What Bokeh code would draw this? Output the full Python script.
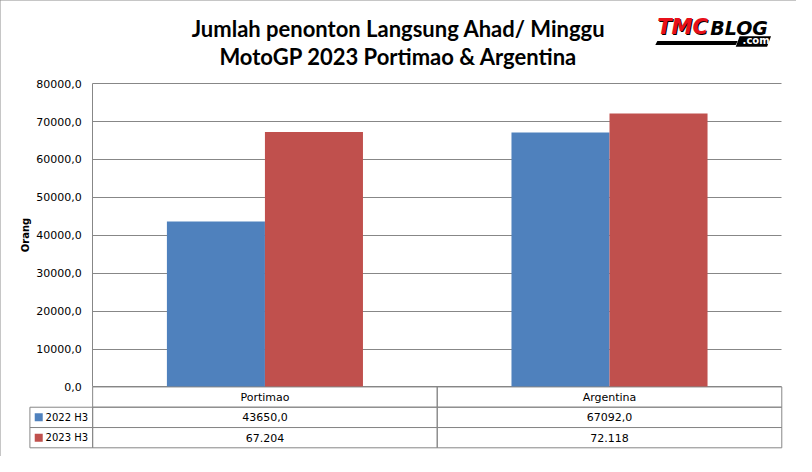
from bokeh.plotting import figure
from bokeh.models import (ColumnDataSource, Range1d, FixedTicker, LinearAxis,
                          CustomJSTickFormatter, Label, PolyAnnotation)
from bokeh.core.properties import value
from bokeh.transform import dodge
from bokeh.embed import file_html
from bokeh.resources import INLINE

# ---------------- data ----------------
categories = ["Portimao", "Argentina"]
series_names = ["2022 H3", "2023 H3"]
values_2022 = [43650, 67092]
values_2023 = [67204, 72118]
y_ticks = [0, 10000, 20000, 30000, 40000, 50000, 60000, 70000, 80000]
title_lines = ["Jumlah penonton Langsung Ahad/ Minggu", "MotoGP 2023 Portimao & Argentina"]
y_label = "Orang"

# ---------------- styling / layout ----------------
BLUE = "#4F81BD"
RED = "#C0504D"
GRID = "#878787"
TEXT_FONT = "DejaVu Sans"

W, H = 796, 456
RW, RH = 812, 472          # reference picture size


def fx(rx):                # reference px -> figure px
    return rx * W / RW


def fy(ry):
    return ry * H / RH


PLOT_L, PLOT_R = fx(94), fx(797)
Y_TOP, Y0 = fy(86), fy(400)
ROWS = [fy(400), fy(421), fy(442), fy(463)]
CAT_PX = (PLOT_R - PLOT_L) / len(categories)
S = (Y0 - Y_TOP) / y_ticks[-1]


def dx(px):                # figure px -> data x
    return (px - PLOT_L) / CAT_PX


def dy(py):                # figure px -> data y
    return (Y0 - py) / S


p = figure(width=W, height=H, output_backend="svg", toolbar_location=None,
           x_range=Range1d(dx(0), dx(W)), y_range=Range1d(dy(H), dy(0)),
           x_axis_location=None, y_axis_location=None,
           min_border=0, background_fill_color="white", border_fill_color="white")
p.outline_line_color = None
p.title.visible = False
p.styles = {"outline": "1px solid #8c8c8c", "outline-offset": "-1px"}

# y axis drawn at the left edge of the plot area
ax = LinearAxis(fixed_location=0)
ax.ticker = FixedTicker(ticks=y_ticks)
ax.bounds = (y_ticks[0], y_ticks[-1])
ax.formatter = CustomJSTickFormatter(code="return tick.toFixed(1).replace('.', ',');")
ax.major_tick_out = 0
ax.major_tick_in = 0
ax.minor_tick_line_color = None
ax.axis_line_color = GRID
ax.major_label_standoff = 11
ax.major_label_text_font = TEXT_FONT
ax.major_label_text_font_size = "11px"
ax.major_label_text_color = "black"
ax.axis_label = y_label
ax.axis_label_text_font = TEXT_FONT
ax.axis_label_text_font_size = "10px"
ax.axis_label_text_font_style = "bold"
ax.axis_label_text_color = "black"
ax.axis_label_standoff = 2
p.add_layout(ax, "left")

p.xgrid.visible = False
p.ygrid.ticker = FixedTicker(ticks=y_ticks)
p.ygrid.bounds = (y_ticks[0], y_ticks[-1])
p.ygrid.cross_bounds = (0, len(categories))
p.ygrid.grid_line_color = GRID

# bars
xc = [i + 0.5 for i in range(len(categories))]
src = ColumnDataSource(dict(xc=xc, cat=categories, v2022=values_2022, v2023=values_2023))
BW = fx(100) / CAT_PX
p.vbar(x=dodge("xc", -BW / 2), top="v2022", width=BW, source=src,
       fill_color=BLUE, line_color=None)
p.vbar(x=dodge("xc", BW / 2), top="v2023", width=BW, source=src,
       fill_color=RED, line_color=None)

# data table below the plot
lab_2022 = [f"{v:.1f}".replace(".", ",") for v in values_2022]
lab_2023 = [f"{v:,}".replace(",", ".") for v in values_2023]
row_c = [dy((ROWS[i] + ROWS[i + 1]) / 2) for i in range(3)]
row_h = [dy(ROWS[i]) - dy(ROWS[i + 1]) for i in range(3)]
tsrc = ColumnDataSource(dict(
    x=xc * 3,
    y=[row_c[i] for i in range(3) for _ in categories],
    h=[row_h[i] for i in range(3) for _ in categories],
    txt=categories + lab_2022 + lab_2023,
))
p.rect(x="x", y="y", width=1, height="h", source=tsrc, fill_color=None, line_color=GRID)
p.text(x="x", y="y", text="txt", source=tsrc, text_align="center",
       text_baseline="middle", text_font=value(TEXT_FONT),
       text_font_size="11px", text_color="black")

# legend column of the table
lc_l, lc_r = dx(fx(30)), 0
lsrc = ColumnDataSource(dict(
    x=[(lc_l + lc_r) / 2] * 2, y=row_c[1:], h=row_h[1:],
    sq_x=[dx(fx(39))] * 2, tx=[dx(fx(46))] * 2,
    name=series_names, color=[BLUE, RED],
))
p.rect(x="x", y="y", width=lc_r - lc_l, height="h", source=lsrc,
       fill_color=None, line_color=GRID)
p.scatter(x="sq_x", y="y", marker="square", size=8, source=lsrc,
          fill_color="color", line_color=None)
p.text(x="tx", y="y", text="name", source=lsrc, text_align="left",
       text_baseline="middle", text_font=value(TEXT_FONT),
       text_font_size="10px", text_color="black")

# title
for i, t in enumerate(title_lines):
    p.add_layout(Label(x=dx(fx(406)), y=dy(fy(29 + 29 * i)), text=t, text_font="Lato",
                       text_font_size="22px", text_font_style="bold", text_align="center",
                       text_baseline="alphabetic", text_color="black"))

# logo
p.add_layout(PolyAnnotation(xs=[dx(fx(v)) for v in (670, 752, 750, 668)],
                            ys=[dy(fy(v)) for v in (42, 42, 46, 46)],
                            fill_color="black", fill_alpha=1, line_color=None))
p.add_layout(PolyAnnotation(xs=[dx(fx(v)) for v in (754, 786, 782, 750)],
                            ys=[dy(fy(v)) for v in (37, 37, 48, 48)],
                            fill_color="black", fill_alpha=1, line_color=None))
p.add_layout(Label(x=dx(fx(671)), y=dy(fy(41)), text="TMC", text_font="DejaVu Sans",
                   text_font_size="21px", text_font_style="bold italic", text_color="black"))
p.add_layout(Label(x=dx(fx(670)), y=dy(fy(40)), text="TMC", text_font="DejaVu Sans",
                   text_font_size="21px", text_font_style="bold italic", text_color="#e8101a"))
p.add_layout(Label(x=dx(fx(724)), y=dy(fy(40)), text="BLOG", text_font="DejaVu Sans",
                   text_font_size="19px", text_font_style="bold italic", text_color="black"))
p.add_layout(Label(x=dx(fx(757)), y=dy(fy(47)), text=".com", text_font="DejaVu Sans",
                   text_font_size="10px", text_font_style="bold", text_color="white"))

open("out.html", "w").write(file_html(p, INLINE))
